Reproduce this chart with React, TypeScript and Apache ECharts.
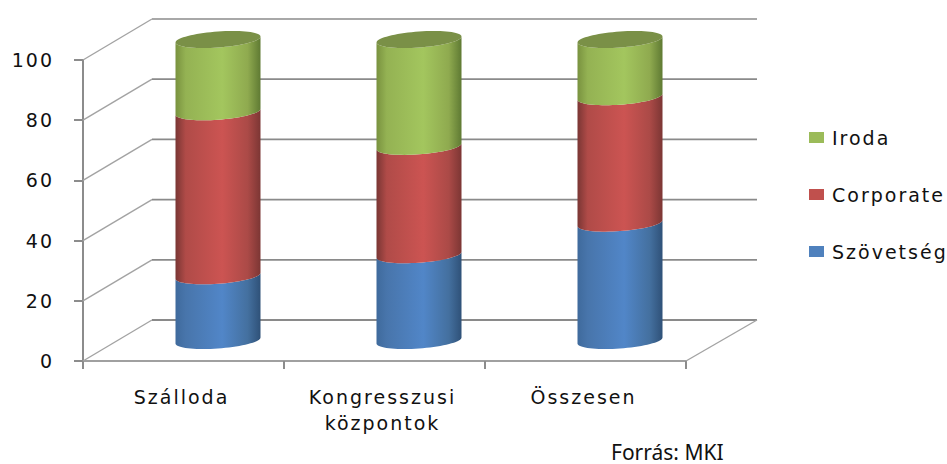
import React, { useEffect, useRef } from "react";
import * as echarts from "echarts";

const categories = ["Szálloda", "Kongresszusi\nközpontok", "Összesen"];
const szovetseg = [21.5, 28.5, 39];
const corporate = [54.5, 36, 42];
const iroda = [24, 35.5, 19];
const yTicks = [0, 20, 40, 60, 80, 100];

const DEPTH_X = 69;
const DEPTH_Y = 41;
const RX = 42.5;
const RY = 8;
const TILT = 3;

function frontArc(cx: number, cy: number, reverse: boolean) {
  const pts: number[][] = [];
  const n = 36;
  for (let k = 0; k <= n; k++) {
    const t = (Math.PI * k) / n;
    pts.push([cx + RX * Math.cos(t), cy + RY * Math.sin(t) - TILT * Math.cos(t)]);
  }
  return reverse ? pts.reverse() : pts;
}

function fullEllipse(cx: number, cy: number) {
  const pts: number[][] = [];
  const n = 72;
  for (let k = 0; k < n; k++) {
    const t = (2 * Math.PI * k) / n;
    pts.push([cx + RX * Math.cos(t), cy + RY * Math.sin(t) - TILT * Math.cos(t)]);
  }
  return pts;
}

function makeRender(stops: string[], topFill?: string) {
  return (params: any, api: any) => {
    const i = api.value(0);
    const start = api.value(1);
    const end = api.value(2);
    const cx = api.coord([i, 0])[0] + DEPTH_X / 2;
    const y0 = api.coord([i, start])[1] - DEPTH_Y / 2;
    const y1 = api.coord([i, end])[1] - DEPTH_Y / 2;
    const fill = new echarts.graphic.LinearGradient(0, 0, 1, 0, [
      { offset: 0, color: stops[0] },
      { offset: 0.12, color: stops[1] },
      { offset: 0.55, color: stops[2] },
      { offset: 0.85, color: stops[3] },
      { offset: 1, color: stops[4] },
    ]);
    const children: any[] = [
      {
        type: "polygon",
        shape: { points: [...frontArc(cx, y0, false), ...frontArc(cx, y1, true)] },
        style: { fill },
      },
    ];
    if (topFill) {
      children.push({
        type: "polygon",
        shape: { points: fullEllipse(cx, y1) },
        style: { fill: topFill },
      });
    }
    return { type: "group", children };
  };
}

function renderWalls(params: any, api: any) {
  const v = api.value(0);
  const y = api.coord([0, v])[1];
  const left = params.coordSys.x;
  const right = left + params.coordSys.width;
  const children: any[] = [
    {
      type: "line",
      shape: { x1: left, y1: y, x2: left + DEPTH_X, y2: y - DEPTH_Y },
      style: { stroke: "#a3a3a3", lineWidth: 1.4 },
    },
    {
      type: "line",
      shape: { x1: left + DEPTH_X, y1: y - DEPTH_Y, x2: right + DEPTH_X + 2, y2: y - DEPTH_Y },
      style: { stroke: v === 100 ? "#a8a8a8" : "#8a8a8a", lineWidth: 1.8 },
    },
  ];
  if (v === 0) {
    children.push({
      type: "line",
      shape: { x1: right, y1: y, x2: right + DEPTH_X + 2, y2: y - DEPTH_Y },
      style: { stroke: "#a3a3a3", lineWidth: 1.4 },
    });
  }
  return { type: "group", children };
}

function stacked(values: number[], below: number[][]) {
  return values.map((v, i) => {
    const base = below.reduce((s, b) => s + b[i], 0);
    return [i, base, base + v];
  });
}

const FONT = "DejaVu Sans";

export default function App() {
  const ref = useRef<HTMLDivElement>(null);
  useEffect(() => {
    const chart = echarts.init(ref.current!, undefined, { renderer: "svg" });
    chart.setOption({
      animation: false,
      backgroundColor: "#ffffff",
      grid: { left: 83, top: 60, width: 603, height: 301, containLabel: false },
      legend: {
        orient: "vertical",
        left: 804,
        top: 123,
        itemWidth: 15,
        itemHeight: 11,
        itemGap: 38,
        icon: "rect",
        data: ["Iroda", "Corporate", "Szövetség"],
        textStyle: { fontFamily: FONT, fontSize: 19, color: "#111111", padding: [0, 0, 0, 3] },
      },
      xAxis: {
        type: "category",
        data: categories,
        axisLine: { lineStyle: { color: "#a0a0a0", width: 2 } },
        axisTick: { show: true, length: 8, lineStyle: { color: "#8c8c8c", width: 2 } },
        axisLabel: {
          fontFamily: FONT,
          fontSize: 19,
          color: "#111111",
          margin: 23,
          lineHeight: 26,
          padding: [0, 4, 0, 0],
        },
        splitLine: { show: false },
      },
      yAxis: {
        type: "value",
        min: 0,
        max: 100,
        interval: 20,
        axisLine: { show: true, lineStyle: { color: "#8c8c8c", width: 2 } },
        axisTick: { show: true, length: 9, lineStyle: { color: "#8c8c8c", width: 2 } },
        axisLabel: { fontFamily: FONT, fontSize: 19, color: "#111111", margin: 29 },
        splitLine: { show: false },
      },
      graphic: [
        {
          type: "text",
          left: 611,
          top: 441,
          style: {
            text: "Forrás: MKI",
            fontFamily: "Noto Sans",
            fontSize: 21,
            fill: "#111111",
          },
        },
      ],
      series: [
        {
          type: "custom",
          name: "walls",
          silent: true,
          data: yTicks.map((v) => [v]),
          encode: { y: 0 },
          renderItem: renderWalls,
          z: 1,
        },
        {
          type: "custom",
          name: "Szövetség",
          itemStyle: { color: "#4f81bd" },
          data: stacked(szovetseg, []),
          encode: { x: 0, y: [1, 2] },
          renderItem: makeRender(["#3f6a9c", "#4875ab", "#5186c8", "#44709f", "#2f5178"]),
          z: 3,
        },
        {
          type: "custom",
          name: "Corporate",
          itemStyle: { color: "#c0504d" },
          data: stacked(corporate, [szovetseg]),
          encode: { x: 0, y: [1, 2] },
          renderItem: makeRender(["#7a3634", "#b04b48", "#cc5452", "#ab4a47", "#7c3634"]),
          z: 3,
        },
        {
          type: "custom",
          name: "Iroda",
          itemStyle: { color: "#9bbb59" },
          data: stacked(iroda, [szovetseg, corporate]),
          encode: { x: 0, y: [1, 2] },
          renderItem: makeRender(["#79923f", "#94b253", "#a3c65e", "#8faa4f", "#5f7a33"], "#7a9047"),
          z: 3,
        },
      ],
    });
    return () => chart.dispose();
  }, []);
  return (
    <>
      <style>{`svg text[style*="DejaVu"]{letter-spacing:2px}`}</style>
      <div ref={ref} style={{ position: "absolute", left: 0, top: 0, width: 947, height: 464 }} />
    </>
  );
}
